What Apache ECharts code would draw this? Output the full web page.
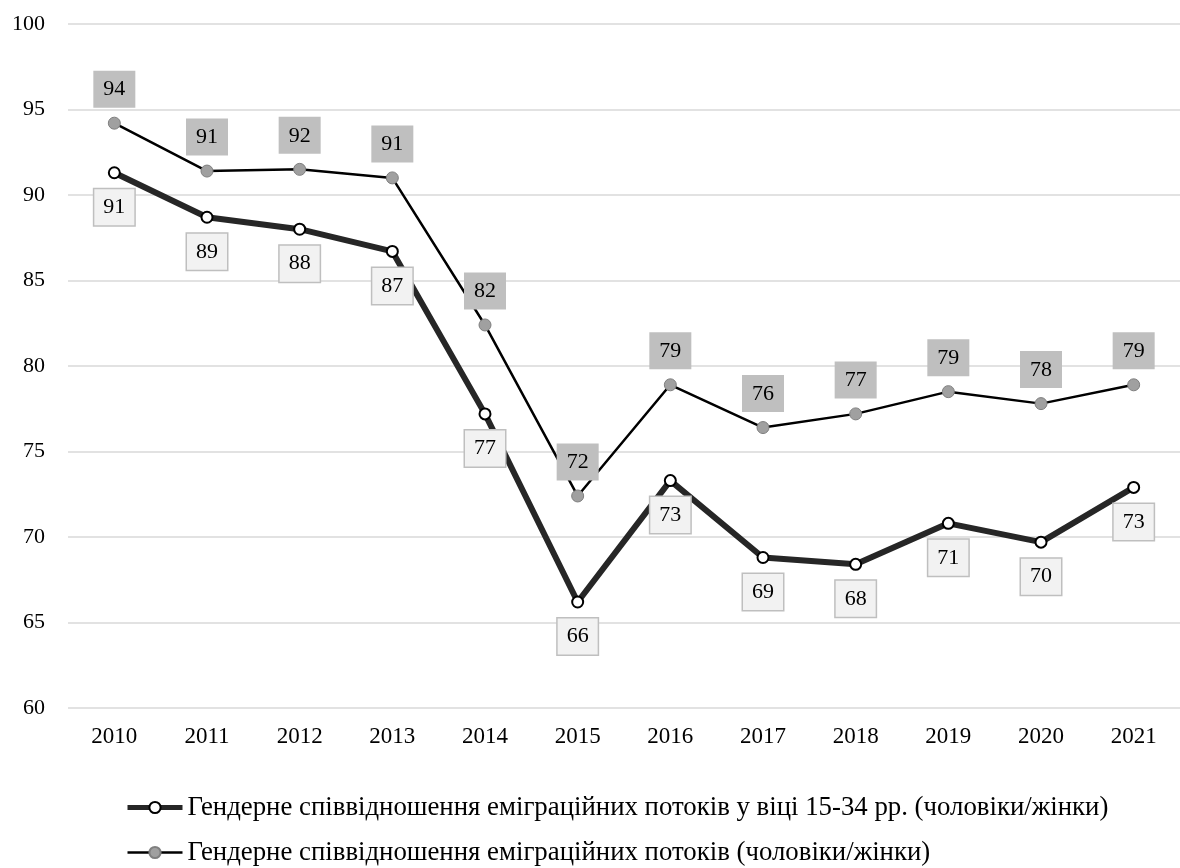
<!DOCTYPE html>
<html>
<head>
<meta charset="utf-8">
<script src="https://cdn.jsdelivr.net/npm/echarts@6/dist/echarts.min.js"></script>
<style>
html,body{margin:0;padding:0;background:#fff;}
#chart{width:1180px;height:868px;}
</style>
</head>
<body>
<div id="chart"></div>
<script>
var years = ['2010','2011','2012','2013','2014','2015','2016','2017','2018','2019','2020','2021'];
var youthRatio = [91.3, 88.7, 88.0, 86.7, 77.2, 66.2, 73.3, 68.8, 68.4, 70.8, 69.7, 72.9];
var totalRatio = [94.2, 91.4, 91.5, 91.0, 82.4, 72.4, 78.9, 76.4, 77.2, 78.5, 77.8, 78.9];
var seriesNames = [
  'Гендерне співвідношення еміграційних потоків у віці 15-34 рр. (чоловіки/жінки)',
  'Гендерне співвідношення еміграційних потоків (чоловіки/жінки)'
];
var yTicks = {min: 60, max: 100, interval: 5};

var FONT = '"Liberation Serif", "Times New Roman", serif';
var chart = echarts.init(document.getElementById('chart'));
chart.setOption({
  backgroundColor: '#ffffff',
  animation: false,
  grid: {left: 68, top: 24, width: 1121, height: 684, containLabel: false},
  xAxis: {
    type: 'category',
    data: years,
    boundaryGap: true,
    axisLine: {show: false},
    axisTick: {show: false},
    axisLabel: {color: '#000', fontFamily: FONT, fontSize: 23, margin: 17}
  },
  yAxis: {
    type: 'value',
    min: yTicks.min, max: yTicks.max, interval: yTicks.interval,
    axisLine: {show: false},
    axisTick: {show: false},
    axisLabel: {color: '#000', fontFamily: FONT, fontSize: 22, margin: 23},
    splitLine: {lineStyle: {color: '#d9d9d9', width: 1.5}}
  },
  legend: {
    orient: 'vertical',
    left: 125,
    top: 794,
    height: 74,
    padding: 0,
    itemWidth: 55,
    itemHeight: 14,
    itemGap: 18,
    textStyle: {color: '#000', fontFamily: FONT, fontSize: 26.8},
    data: [
      {name: seriesNames[0], lineStyle: {width: 5, color: '#262626'}},
      {name: seriesNames[1], lineStyle: {width: 2.5, color: '#000'}}
    ]
  },
  series: [
    {
      name: seriesNames[0],
      type: 'line',
      data: youthRatio,
      z: 3,
      symbol: 'circle',
      symbolSize: 11,
      lineStyle: {color: '#262626', width: 6},
      itemStyle: {color: '#ffffff', borderColor: '#000000', borderWidth: 2},
      label: {
        show: true,
        position: 'bottom',
        distance: 10,
        formatter: function(p){ return Math.round(p.value); },
        color: '#000', fontFamily: FONT, fontSize: 22, lineHeight: 22,
        backgroundColor: '#f2f2f2',
        borderColor: '#bfbfbf', borderWidth: 1.5,
        padding: [7, 9, 7, 9]
      }
    },
    {
      name: seriesNames[1],
      type: 'line',
      data: totalRatio,
      z: 2,
      symbol: 'circle',
      symbolSize: 12,
      lineStyle: {color: '#000000', width: 2.5},
      itemStyle: {color: '#a0a0a0', borderColor: '#7f7f7f', borderWidth: 1},
      label: {
        show: true,
        position: 'top',
        distance: 9,
        formatter: function(p){ return Math.round(p.value); },
        color: '#000', fontFamily: FONT, fontSize: 22, lineHeight: 22,
        backgroundColor: '#bfbfbf',
        padding: [8, 10, 7, 10]
      }
    }
  ]
});
</script>
</body>
</html>
